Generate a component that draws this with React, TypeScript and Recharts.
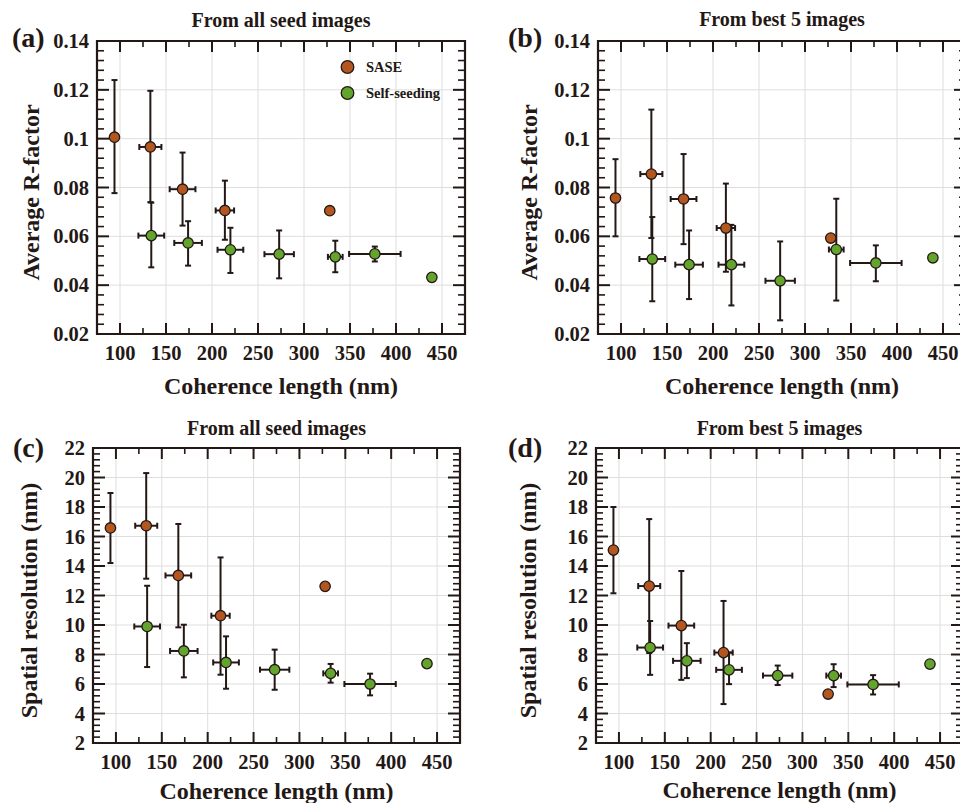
import React from "react";
import {
  CartesianGrid,
  ErrorBar,
  Legend,
  ReferenceArea,
  Scatter,
  ScatterChart,
  XAxis,
  YAxis,
} from "recharts";

const INK = "#231815";
const SASE_COLOR = "#b4561f";
const SEED_COLOR = "#63a52c";
const FONT = '"Liberation Serif", "Times New Roman", serif';

// tick labels
const X_MAJOR = [100, 150, 200, 250, 300, 350, 400, 450];
const R_MAJOR = [0.02, 0.04, 0.06, 0.08, 0.1, 0.12, 0.14];
const S_MAJOR = [2, 4, 6, 8, 10, 12, 14, 16, 18, 20, 22];

// coherence length (nm) and its spread, shared by all panels
const SASE_X = [94, 133, 168, 214, 328];
const SASE_XERR = [0, 12, 14, 10, 0];
const SEED_X = [134, 174, 220, 273, 334, 377, 439];
const SEED_XERR = [14, 15, 14, 16, 8, 28, 0];

// (a) average R-factor, all seed images
const A_SASE_Y = [0.1006, 0.0966, 0.0793, 0.0706, 0.0705];
const A_SASE_LO = [0.0777, 0.074, 0.0644, 0.0586, 0.0705];
const A_SASE_HI = [0.124, 0.1196, 0.0943, 0.0828, 0.0705];
const A_SEED_Y = [0.0603, 0.0573, 0.0545, 0.0527, 0.0516, 0.0528, 0.0432];
const A_SEED_LO = [0.0473, 0.048, 0.045, 0.0428, 0.0453, 0.0497, 0.0432];
const A_SEED_HI = [0.0738, 0.0662, 0.0635, 0.0624, 0.0582, 0.0558, 0.0432];

// (b) average R-factor, best 5 images
const B_SASE_Y = [0.0757, 0.0855, 0.0753, 0.0634, 0.0593];
const B_SASE_LO = [0.06, 0.0593, 0.0568, 0.0455, 0.0593];
const B_SASE_HI = [0.0916, 0.1119, 0.0937, 0.0816, 0.0593];
const B_SEED_Y = [0.0507, 0.0484, 0.0484, 0.0418, 0.0546, 0.0491, 0.0512];
const B_SEED_LO = [0.0334, 0.0343, 0.0317, 0.0256, 0.0337, 0.0416, 0.0512];
const B_SEED_HI = [0.0679, 0.0624, 0.0647, 0.0579, 0.0754, 0.0563, 0.0512];

// (c) spatial resolution (nm), all seed images
const C_SASE_Y = [16.58, 16.73, 13.36, 10.63, 12.62];
const C_SASE_LO = [14.2, 13.14, 9.84, 6.63, 12.62];
const C_SASE_HI = [18.95, 20.3, 16.85, 14.58, 12.62];
const C_SEED_Y = [9.9, 8.24, 7.46, 6.97, 6.72, 6.0, 7.38];
const C_SEED_LO = [7.15, 6.45, 5.68, 5.61, 6.09, 5.23, 7.38];
const C_SEED_HI = [12.66, 10.02, 9.23, 8.33, 7.36, 6.7, 7.38];

// (d) spatial resolution (nm), best 5 images
const D_SASE_Y = [15.08, 12.64, 9.96, 8.13, 5.32];
const D_SASE_LO = [12.15, 8.1, 6.28, 4.64, 5.32];
const D_SASE_HI = [18.0, 17.18, 13.66, 11.63, 5.32];
const D_SEED_Y = [8.47, 7.57, 6.96, 6.57, 6.57, 5.97, 7.35];
const D_SEED_LO = [6.62, 6.4, 5.99, 5.93, 5.79, 5.29, 7.35];
const D_SEED_HI = [10.27, 8.77, 8.13, 7.25, 7.34, 6.6, 7.35];

interface Row {
  x: number;
  y: number;
  xe: number;
  ye: [number, number];
}

function toRows(xs: number[], xerr: number[], ys: number[], lo: number[], hi: number[]): Row[] {
  return xs.map((x, i) => ({ x, y: ys[i], xe: xerr[i], ye: [ys[i] - lo[i], hi[i] - ys[i]] }));
}

// majors plus evenly spaced minor ticks between them
function withMinors(major: number[], parts: number): number[] {
  const step = (major[1] - major[0]) / parts;
  const out: number[] = [];
  const n = Math.round((major[major.length - 1] - major[0]) / step);
  for (let i = 0; i <= n; i++) out.push(+(major[0] + i * step).toFixed(6));
  return out;
}

const isMajor = (v: number, major: number[]) => major.some((m) => Math.abs(m - v) < 1e-9);

const dot = (fill: string) => (p: any) => (
  <circle cx={p.cx} cy={p.cy} r={5.2} fill={fill} stroke={INK} strokeWidth={1.3} />
);

function LegendBox() {
  return (
    <svg width={130} height={50}>
      <circle cx={9.5} cy={10} r={6.3} fill={SASE_COLOR} stroke={INK} strokeWidth={1.3} />
      <text x={28} y={10} dominantBaseline="central" fontSize={14.5} fontWeight="bold" fill={INK} fontFamily={FONT}>
        SASE
      </text>
      <circle cx={9.5} cy={36} r={6.3} fill={SEED_COLOR} stroke={INK} strokeWidth={1.3} />
      <text x={28} y={36} dominantBaseline="central" fontSize={14.5} fontWeight="bold" fill={INK} fontFamily={FONT}>
        Self-seeding
      </text>
    </svg>
  );
}

interface PanelProps {
  tag: string;
  title: string;
  yTitle: string;
  box: { left: number; top: number; width: number; height: number };
  plot: { l: number; t: number; r: number; b: number };
  yMajor: number[];
  sase: Row[];
  seed: Row[];
  tagX: number;
  tagBase: number;
  titleBase: number;
  yTitleX: number;
  xTitleY: number;
  legend?: boolean;
}

function Panel(p: PanelProps) {
  const { box, plot } = p;
  const pl = plot.l - box.left;
  const pr = plot.r - box.left;
  const pt = plot.t - box.top;
  const pb = plot.b - box.top;
  const yDomain: [number, number] = [p.yMajor[0], p.yMajor[p.yMajor.length - 1]];
  const xTicks = withMinors(X_MAJOR, 2);
  const yTicks = withMinors(p.yMajor, 5);
  const textStyle = { fontFamily: FONT, fontWeight: "bold" as const, fill: INK };

  const xTick = (t: any) => {
    const v = t.payload.value;
    const major = isMajor(v, X_MAJOR);
    const len = major ? 11 : 6;
    return (
      <g>
        <line x1={t.x} x2={t.x} y1={pb} y2={pb - len} stroke={INK} strokeWidth={major ? 2 : 1.6} />
        <line x1={t.x} x2={t.x} y1={pt} y2={pt + len} stroke={INK} strokeWidth={major ? 2 : 1.6} />
        {major && (
          <text x={t.x} y={pb + 19} textAnchor="middle" dominantBaseline="central" fontSize={20.5} {...textStyle}>
            {v}
          </text>
        )}
      </g>
    );
  };

  const yTick = (t: any) => {
    const v = t.payload.value;
    const major = isMajor(v, p.yMajor);
    const len = major ? 12 : 7;
    return (
      <g>
        <line x1={pl} x2={pl + len} y1={t.y} y2={t.y} stroke={INK} strokeWidth={major ? 2 : 1.6} />
        <line x1={pr} x2={pr - len} y1={t.y} y2={t.y} stroke={INK} strokeWidth={major ? 2 : 1.6} />
        {major && (
          <text x={pl - 8} y={t.y} textAnchor="end" dominantBaseline="central" fontSize={20.5} {...textStyle}>
            {String(v)}
          </text>
        )}
      </g>
    );
  };

  const midX = (pl + pr) / 2;
  const midY = (pt + pb) / 2 + 5;

  return (
    <div style={{ position: "absolute", left: box.left, top: box.top, width: box.width, height: box.height }}>
      <div
        style={{
          position: "absolute",
          left: p.tagX - box.left,
          top: p.tagBase - box.top - 23.5,
          fontSize: 28,
          lineHeight: "28px",
          fontWeight: "bold",
          color: INK,
          whiteSpace: "nowrap",
          zIndex: 2,
        }}
      >
        {p.tag}
      </div>
      <div
        style={{
          position: "absolute",
          left: pl,
          width: pr - pl,
          top: p.titleBase - box.top - 16.75,
          fontSize: 20,
          lineHeight: "20px",
          fontWeight: "bold",
          color: INK,
          textAlign: "center",
          whiteSpace: "nowrap",
          zIndex: 2,
        }}
      >
        {p.title}
      </div>
      <ScatterChart
        width={box.width}
        height={box.height}
        margin={{ top: pt, right: box.width - pr, bottom: 0, left: 0 }}
      >
        <CartesianGrid
          stroke="#dedede"
          strokeWidth={1}
          verticalValues={X_MAJOR}
          horizontalValues={p.yMajor.slice(1, -1)}
        />
        <XAxis
          type="number"
          dataKey="x"
          domain={[75, 475]}
          allowDataOverflow
          ticks={xTicks}
          interval={0}
          tick={xTick}
          tickLine={false}
          axisLine={false}
          height={box.height - pb}
          label={{
            content: () => (
              <text
                x={midX}
                y={p.xTitleY - box.top}
                textAnchor="middle"
                dominantBaseline="central"
                fontSize={24}
                {...textStyle}
              >
                Coherence length (nm)
              </text>
            ),
          }}
        />
        <YAxis
          type="number"
          dataKey="y"
          domain={yDomain}
          allowDataOverflow
          ticks={yTicks}
          interval={0}
          tick={yTick}
          tickLine={false}
          axisLine={false}
          width={pl}
          label={{
            content: () => (
              <text
                x={p.yTitleX - box.left}
                y={midY}
                textAnchor="middle"
                dominantBaseline="central"
                fontSize={24}
                transform={`rotate(-90 ${p.yTitleX - box.left} ${midY})`}
                {...textStyle}
              >
                {p.yTitle}
              </text>
            ),
          }}
        />
        <ReferenceArea
          x1={75}
          x2={475}
          y1={yDomain[0]}
          y2={yDomain[1]}
          fill="none"
          stroke={INK}
          strokeWidth={2.2}
          ifOverflow="visible"
        />
        <Scatter name="SASE" data={p.sase} dataKey="y" shape={dot(SASE_COLOR)} isAnimationActive={false}>
          <ErrorBar dataKey="ye" direction="y" width={3} stroke={INK} strokeWidth={2} />
          <ErrorBar dataKey="xe" direction="x" width={3} stroke={INK} strokeWidth={2} />
        </Scatter>
        <Scatter name="Self-seeding" data={p.seed} dataKey="y" shape={dot(SEED_COLOR)} isAnimationActive={false}>
          <ErrorBar dataKey="ye" direction="y" width={3} stroke={INK} strokeWidth={2} />
          <ErrorBar dataKey="xe" direction="x" width={3} stroke={INK} strokeWidth={2} />
        </Scatter>
        {p.legend && (
          <Legend
            layout="vertical"
            align="center"
            verticalAlign="middle"
            wrapperStyle={{ left: 338, top: 57, width: 130, height: 50 }}
            content={() => <LegendBox />}
          />
        )}
      </ScatterChart>
    </div>
  );
}

export default function App() {
  return (
    <div
      style={{
        position: "absolute",
        left: 0,
        top: 0,
        width: 960,
        height: 803,
        overflow: "hidden",
        background: "#fff",
        fontFamily: FONT,
      }}
    >
      <Panel
        tag="(a)"
        title="From all seed images"
        yTitle="Average R-factor"
        box={{ left: 0, top: 0, width: 480, height: 400 }}
        plot={{ l: 97, t: 41, r: 465, b: 334 }}
        yMajor={R_MAJOR}
        sase={toRows(SASE_X, SASE_XERR, A_SASE_Y, A_SASE_LO, A_SASE_HI)}
        seed={toRows(SEED_X, SEED_XERR, A_SEED_Y, A_SEED_LO, A_SEED_HI)}
        tagX={12}
        tagBase={47}
        titleBase={27}
        yTitleX={31}
        xTitleY={386}
        legend
      />
      <Panel
        tag="(b)"
        title="From best 5 images"
        yTitle="Average R-factor"
        box={{ left: 480, top: 0, width: 490, height: 400 }}
        plot={{ l: 598, t: 41, r: 966, b: 334 }}
        yMajor={R_MAJOR}
        sase={toRows(SASE_X, SASE_XERR, B_SASE_Y, B_SASE_LO, B_SASE_HI)}
        seed={toRows(SEED_X, SEED_XERR, B_SEED_Y, B_SEED_LO, B_SEED_HI)}
        tagX={508}
        tagBase={47}
        titleBase={26}
        yTitleX={529}
        xTitleY={386}
      />
      <Panel
        tag="(c)"
        title="From all seed images"
        yTitle="Spatial resolution (nm)"
        box={{ left: 0, top: 400, width: 480, height: 403 }}
        plot={{ l: 93, t: 448, r: 460, b: 743 }}
        yMajor={S_MAJOR}
        sase={toRows(SASE_X, SASE_XERR, C_SASE_Y, C_SASE_LO, C_SASE_HI)}
        seed={toRows(SEED_X, SEED_XERR, C_SEED_Y, C_SEED_LO, C_SEED_HI)}
        tagX={13}
        tagBase={457}
        titleBase={435}
        yTitleX={29}
        xTitleY={791}
      />
      <Panel
        tag="(d)"
        title="From best 5 images"
        yTitle="Spatial resolution (nm)"
        box={{ left: 480, top: 400, width: 490, height: 403 }}
        plot={{ l: 596, t: 448, r: 963, b: 743 }}
        yMajor={S_MAJOR}
        sase={toRows(SASE_X, SASE_XERR, D_SASE_Y, D_SASE_LO, D_SASE_HI)}
        seed={toRows(SEED_X, SEED_XERR, D_SEED_Y, D_SEED_LO, D_SEED_HI)}
        tagX={508}
        tagBase={457}
        titleBase={435}
        yTitleX={528}
        xTitleY={790}
      />
    </div>
  );
}
